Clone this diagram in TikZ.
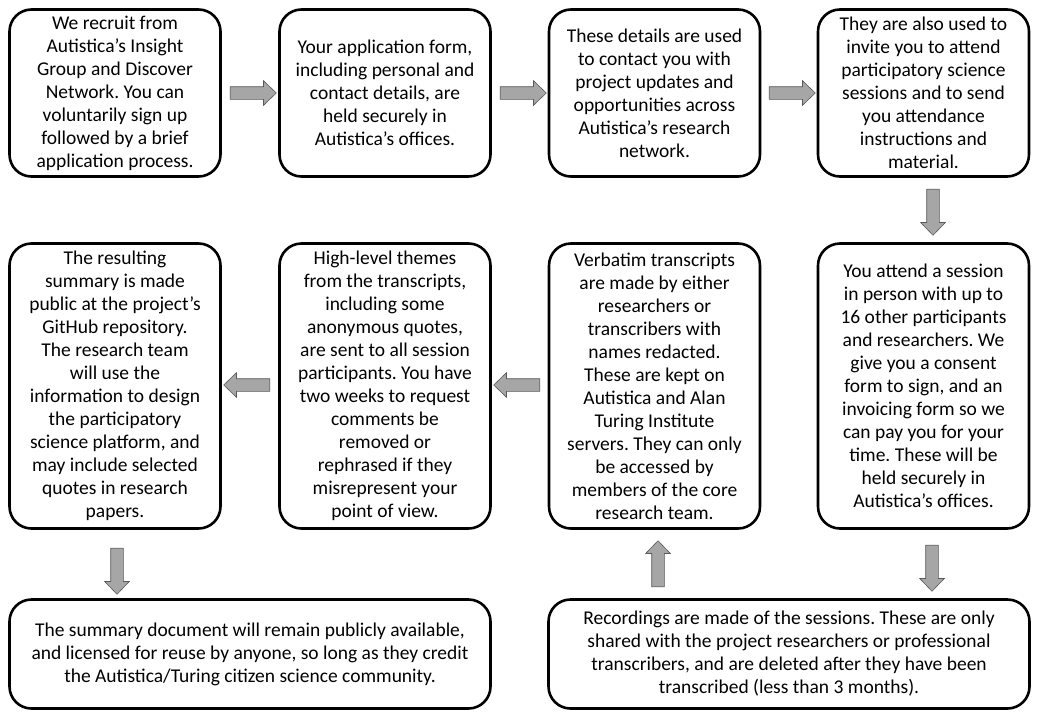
\documentclass[tikz,border=0pt]{standalone}
\usepackage{fontspec}
\setmainfont{Carlito}
\frenchspacing
\usetikzlibrary{shapes.arrows}
\tikzset{
  stage/.style={draw, line width=2.6pt, rounded corners=22pt, align=center,
    minimum width=211pt, inner sep=2pt, font=\fontsize{19.5}{23}\selectfont},
  widestage/.style={stage, minimum width=481pt},
  blockarrow/.style={single arrow, draw=black!65, fill=black!35, line width=0.6pt,
    minimum height=46pt, single arrow head extend=6pt,
    single arrow tip angle=88, inner xsep=0pt, inner ysep=6pt}
}
\begin{document}
\begin{tikzpicture}[x=1pt, y=-1pt]
  \useasboundingbox (0,0) rectangle (1040,720);
  % top row
  \node[stage, minimum height=167pt] (recruit) at (115,93) {We recruit from\\Autistica’s Insight\\Group and Discover\\Network. You can\\voluntarily sign up\\followed by a brief\\application process.};
  \node[stage, minimum height=167pt] (form) at (385,93) {Your application form,\\including personal and\\contact details, are\\held securely in\\Autistica’s offices.};
  \node[stage, minimum height=167pt] (contact) at (654.5,93) {These details are used\\to contact you with\\project updates and\\opportunities across\\Autistica’s research\\network.};
  \node[stage, minimum height=167pt] (invite) at (923.5,93) {They are also used to\\invite you to attend\\participatory science\\sessions and to send\\you attendance\\instructions and\\material.};
  % middle row
  \node[stage, minimum height=285pt] (summary) at (115,386) {The resulting\\summary is made\\public at the project’s\\GitHub repository.\\The research team\\will use the\\information to design\\the participatory\\science platform, and\\may include selected\\quotes in research\\papers.};
  \node[stage, minimum height=285pt] (themes) at (385,386) {High-level themes\\from the transcripts,\\including some\\anonymous quotes,\\are sent to all session\\participants. You have\\two weeks to request\\comments be\\removed or\\rephrased if they\\misrepresent your\\point of view.};
  \node[stage, minimum height=285pt] (verbatim) at (654.5,386) {Verbatim transcripts\\are made by either\\researchers or\\transcribers with\\names redacted.\\These are kept on\\Autistica and Alan\\Turing Institute\\servers. They can only\\be accessed by\\members of the core\\research team.};
  \node[stage, minimum height=285pt] (attend) at (923.5,386) {You attend a session\\in person with up to\\16 other participants\\and researchers. We\\give you a consent\\form to sign, and an\\invoicing form so we\\can pay you for your\\time. These will be\\held securely in\\Autistica’s offices.};
  % bottom row
  \node[widestage, minimum height=109pt] (publish) at (250,654) {The summary document will remain publicly available,\\and licensed for reuse by anyone, so long as they credit\\the Autistica/Turing citizen science community.};
  \node[widestage, minimum height=109pt] (record) at (789,654) {Recordings are made of the sessions. These are only\\shared with the project researchers or professional\\transcribers, and are deleted after they have been\\transcribed (less than 3 months).};
  % arrows
  \node[blockarrow] (a1) at (250,93) {};
  \node[blockarrow] (a2) at (520,93) {};
  \node[blockarrow] (a3) at (789,93) {};
  \node[blockarrow, rotate=-90] (a4) at (933,209) {};
  \node[blockarrow, rotate=-90] (a5) at (932,565) {};
  \node[blockarrow, rotate=90] (a6) at (658,567) {};
  \node[blockarrow, rotate=180] (a7) at (520,385) {};
  \node[blockarrow, rotate=180] (a8) at (250,385) {};
  \node[blockarrow, rotate=-90] (a9) at (117,568) {};
\end{tikzpicture}
\end{document}
